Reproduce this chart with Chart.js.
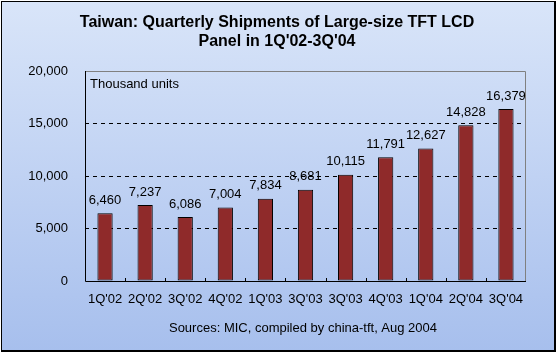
<!DOCTYPE html>
<html>
<head>
<meta charset="utf-8">
<script src="https://cdn.jsdelivr.net/npm/chart.js@4"></script>
<style>
  html, body { margin: 0; padding: 0; background: #ffffff; }
  #wrap { width: 558px; height: 354px; position: relative; }
</style>
</head>
<body>
<div id="wrap"><canvas id="chart" width="558" height="354"></canvas></div>
<script>
// --- data ---
const quarters = ["1Q'02", "2Q'02", "3Q'02", "4Q'02", "1Q'03", "3Q'03", "3Q'03", "4Q'03", "1Q'04", "2Q'04", "3Q'04"];
const shipments = [6460, 7237, 6086, 7004, 7834, 8681, 10115, 11791, 12627, 14828, 16379];
const yTicks = [0, 5000, 10000, 15000, 20000];

const titleLines = ["Taiwan: Quarterly Shipments of Large-size TFT LCD", "Panel in 1Q'02-3Q'04"];
const unitText = 'Thousand units';
const sourceText = 'Sources: MIC, compiled by china-tft, Aug 2004';

const fontName = '"Liberation Sans", Arial, sans-serif';
const fmt = v => v.toLocaleString('en-US');

// background, frame, titles
const decor = {
  id: 'decor',
  beforeDraw(chart) {
    const ctx = chart.ctx;
    ctx.save();
    ctx.fillStyle = '#ffffff';
    ctx.fillRect(0, 0, 558, 354);
    const g = ctx.createLinearGradient(0, 1, 0, 351);
    g.addColorStop(0, '#d9e5f9');
    g.addColorStop(1, '#a7bfed');
    ctx.fillStyle = g;
    ctx.fillRect(1, 1, 554, 350);
    ctx.strokeStyle = '#000';
    ctx.lineWidth = 1;
    ctx.strokeRect(1.5, 1.5, 553, 349);
    ctx.fillStyle = '#000';
    ctx.fillRect(554, 1, 2, 351);
    ctx.fillRect(1, 350, 555, 2);
    ctx.restore();
  },
  afterDraw(chart) {
    const ctx = chart.ctx;
    const a = chart.chartArea;
    ctx.save();
    ctx.fillStyle = '#000';
    ctx.textAlign = 'center';
    ctx.textBaseline = 'middle';
    ctx.font = 'bold 16px ' + fontName;
    ctx.fillText(titleLines[0], 277, 23);
    ctx.fillText(titleLines[1], 277, 42);
    ctx.font = '13px ' + fontName;
    ctx.fillText(sourceText, 303, 328);
    ctx.textAlign = 'left';
    ctx.fillText(unitText, a.left + 5, a.top + 13);
    // plot frame: grey top/right, black axes
    ctx.strokeStyle = '#808080';
    ctx.lineWidth = 1;
    ctx.beginPath();
    ctx.moveTo(a.left, a.top + 0.5);
    ctx.lineTo(a.right - 0.5, a.top + 0.5);
    ctx.lineTo(a.right - 0.5, a.bottom);
    ctx.stroke();
    ctx.strokeStyle = '#000';
    ctx.beginPath();
    ctx.moveTo(a.left + 0.5, a.top);
    ctx.lineTo(a.left + 0.5, a.bottom + 0.5);
    ctx.lineTo(a.right, a.bottom + 0.5);
    ctx.stroke();
    // category tick marks
    const n = quarters.length;
    const step = (a.right - a.left) / n;
    ctx.beginPath();
    for (let i = 1; i < n; i++) {
      const x = Math.round(a.left + step * i) + 0.5;
      ctx.moveTo(x, a.bottom);
      ctx.lineTo(x, a.bottom - 3);
    }
    ctx.stroke();
    // value labels
    ctx.font = '13px ' + fontName;
    ctx.textAlign = 'center';
    ctx.textBaseline = 'middle';
    chart.getDatasetMeta(0).data.forEach((bar, i) => {
      ctx.fillText(fmt(shipments[i]), bar.x, bar.y - 13);
    });
    ctx.restore();
  }
};

const ctx = document.getElementById('chart').getContext('2d');

function barFill(context) {
  const chart = context.chart;
  const el = context.element;
  if (!el || el.x === undefined || !chart.chartArea) return '#8f2a2a';
  const w = el.width || 15;
  const g = chart.ctx.createLinearGradient(el.x - w / 2, 0, el.x + w / 2, 0);
  g.addColorStop(0, '#7a1616');
  g.addColorStop(0.45, '#a03c3c');
  g.addColorStop(1, '#6e1212');
  return g;
}

new Chart(ctx, {
  type: 'bar',
  data: {
    labels: quarters,
    datasets: [{
      data: shipments,
      backgroundColor: barFill,
      borderColor: '#000000',
      borderWidth: 1,
      borderSkipped: false,
      barPercentage: 0.38,
      categoryPercentage: 1.0
    }]
  },
  options: {
    responsive: false,
    animation: false,
    devicePixelRatio: 1,
    layout: { padding: { left: 0, right: 32, top: 71, bottom: 0 } },
    plugins: {
      legend: { display: false },
      tooltip: { enabled: false },
      title: { display: false }
    },
    scales: {
      x: {
        grid: { display: false, drawTicks: false },
        border: { display: false },
        ticks: { color: '#000', font: { family: fontName, size: 13 }, padding: 11, maxRotation: 0, autoSkip: false },
        afterFit(scale) { scale.height = 73; }
      },
      y: {
        min: 0,
        max: 20000,
        afterBuildTicks(scale) { scale.ticks = yTicks.map(v => ({ value: v })); },
        grid: {
          color: ctx => (ctx.tick && (ctx.tick.value === 0 || ctx.tick.value === 20000)) ? 'rgba(0,0,0,0)' : '#000',
          lineWidth: 1,
          drawTicks: false
        },
        border: { display: false, dash: [4, 4] },
        ticks: {
          color: '#000',
          font: { family: fontName, size: 13 },
          padding: 17,
          callback: v => fmt(v)
        },
        afterFit(scale) { scale.width = 85; }
      }
    }
  },
  plugins: [decor]
});
</script>
</body>
</html>
